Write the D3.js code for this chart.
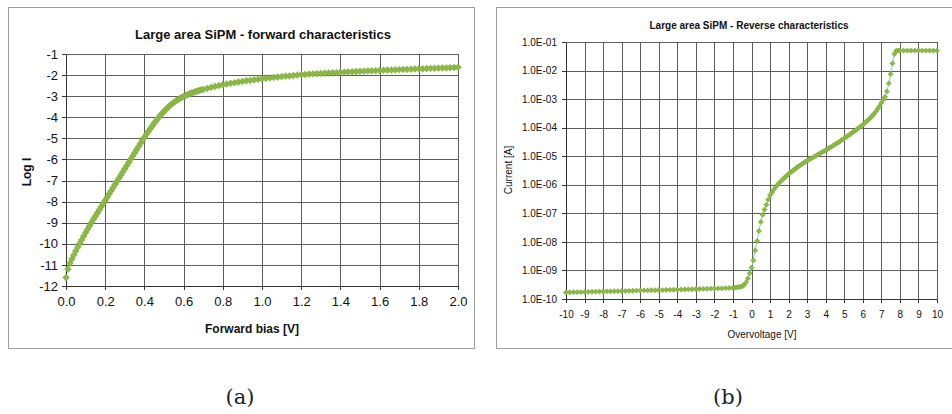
<!DOCTYPE html>
<html>
<head>
<meta charset="utf-8">
<script src="https://cdn.jsdelivr.net/npm/d3@7"></script>
<style>
  html, body { margin: 0; padding: 0; background: #fff; }
  svg { display: block; }
  .ax text { font-family: "Liberation Sans", Arial, sans-serif; fill: #111; }
  .ax path, .ax line { stroke: #333; shape-rendering: crispEdges; }
  .grid line { stroke: #5e5e5e; shape-rendering: crispEdges; }
  .grid path { display: none; }
</style>
</head>
<body>
<svg id="fig" width="952" height="414"></svg>
<script>
// ---- (a) forward characteristics: log10 of current vs forward bias ----
const forwardBias = [
  0.00, 0.01, 0.02, 0.03, 0.04, 0.05, 0.06, 0.07, 0.08, 0.09,
  0.10, 0.11, 0.12, 0.13, 0.14, 0.15, 0.16, 0.17, 0.18, 0.19,
  0.20, 0.21, 0.22, 0.23, 0.24, 0.25, 0.26, 0.27, 0.28, 0.29,
  0.30, 0.31, 0.32, 0.33, 0.34, 0.35, 0.36, 0.37, 0.38, 0.39,
  0.40, 0.41, 0.42, 0.43, 0.44, 0.45, 0.46, 0.47, 0.48, 0.49,
  0.50, 0.51, 0.52, 0.53, 0.54, 0.55, 0.56, 0.57, 0.58, 0.59,
  0.60, 0.61, 0.62, 0.63, 0.64, 0.65, 0.66, 0.67, 0.68, 0.69,
  0.70, 0.72, 0.74, 0.76, 0.78, 0.80, 0.82, 0.84, 0.86, 0.88,
  0.90, 0.92, 0.94, 0.96, 0.98, 1.00, 1.02, 1.04, 1.06, 1.08,
  1.10, 1.12, 1.14, 1.16, 1.18, 1.20, 1.22, 1.24, 1.26, 1.28,
  1.30, 1.32, 1.34, 1.36, 1.38, 1.40, 1.42, 1.44, 1.46, 1.48,
  1.50, 1.52, 1.54, 1.56, 1.58, 1.60, 1.62, 1.64, 1.66, 1.68,
  1.70, 1.72, 1.74, 1.76, 1.78, 1.80, 1.82, 1.84, 1.86, 1.88,
  1.90, 1.92, 1.94, 1.96, 1.98, 2.00
];
const logCurrent = [
  -11.60, -11.20, -10.92, -10.72, -10.53, -10.34, -10.16, -9.98, -9.81, -9.64,
  -9.47, -9.31, -9.15, -8.99, -8.84, -8.69, -8.54, -8.39, -8.24, -8.09,
  -7.94, -7.79, -7.64, -7.49, -7.34, -7.19, -7.04, -6.89, -6.74, -6.59,
  -6.44, -6.29, -6.14, -5.99, -5.84, -5.69, -5.54, -5.39, -5.24, -5.09,
  -4.95, -4.81, -4.67, -4.54, -4.41, -4.28, -4.16, -4.04, -3.93, -3.82,
  -3.72, -3.62, -3.53, -3.45, -3.37, -3.30, -3.23, -3.17, -3.11, -3.06,
  -3.01, -2.97, -2.93, -2.89, -2.85, -2.82, -2.79, -2.76, -2.73, -2.70,
  -2.68, -2.63, -2.58, -2.54, -2.50, -2.46, -2.42, -2.39, -2.36, -2.33,
  -2.30, -2.27, -2.25, -2.22, -2.20, -2.17, -2.15, -2.13, -2.11, -2.09,
  -2.07, -2.05, -2.04, -2.02, -2.00, -1.98, -1.97, -1.95, -1.94, -1.93,
  -1.92, -1.91, -1.90, -1.89, -1.88, -1.87, -1.86, -1.85, -1.84, -1.83,
  -1.82, -1.81, -1.80, -1.80, -1.79, -1.78, -1.77, -1.76, -1.76, -1.75,
  -1.74, -1.73, -1.73, -1.72, -1.71, -1.70, -1.70, -1.69, -1.68, -1.68,
  -1.67, -1.66, -1.66, -1.65, -1.64, -1.63
];
const fwdXTicks = [0.0, 0.2, 0.4, 0.6, 0.8, 1.0, 1.2, 1.4, 1.6, 1.8, 2.0];
const fwdYTicks = [-12, -11, -10, -9, -8, -7, -6, -5, -4, -3, -2, -1];

// ---- (b) reverse characteristics: current [A] vs overvoltage ----
const overvoltage = [
  -10.0, -9.8, -9.6, -9.4, -9.2, -9.0, -8.8, -8.6, -8.4, -8.2,
  -8.0, -7.8, -7.6, -7.4, -7.2, -7.0, -6.8, -6.6, -6.4, -6.2,
  -6.0, -5.8, -5.6, -5.4, -5.2, -5.0, -4.8, -4.6, -4.4, -4.2,
  -4.0, -3.8, -3.6, -3.4, -3.2, -3.0, -2.8, -2.6, -2.4, -2.2,
  -2.0, -1.8, -1.6, -1.4, -1.2, -1.0, -0.9, -0.8, -0.7, -0.6,
  -0.5, -0.4, -0.3, -0.2, -0.1, 0.0, 0.1, 0.2, 0.3, 0.4,
  0.5, 0.6, 0.7, 0.8, 0.9, 1.0, 1.1, 1.2, 1.3, 1.4,
  1.5, 1.6, 1.7, 1.8, 1.9, 2.0, 2.1, 2.2, 2.3, 2.4,
  2.5, 2.6, 2.7, 2.8, 2.9, 3.0, 3.1, 3.2, 3.3, 3.4,
  3.5, 3.6, 3.7, 3.8, 3.9, 4.0, 4.1, 4.2, 4.3, 4.4,
  4.5, 4.6, 4.7, 4.8, 4.9, 5.0, 5.1, 5.2, 5.3, 5.4,
  5.5, 5.6, 5.7, 5.8, 5.9, 6.0, 6.1, 6.2, 6.3, 6.4,
  6.5, 6.6, 6.7, 6.8, 6.9, 7.0, 7.1, 7.2, 7.3, 7.4,
  7.5, 7.6, 7.7, 7.8, 7.9, 8.0, 8.2, 8.4, 8.6, 8.8,
  9.0, 9.2, 9.4, 9.6, 9.8, 10.0
];
const reverseCurrent = [
  1.70e-10, 1.71e-10, 1.73e-10, 1.74e-10, 1.75e-10, 1.77e-10, 1.78e-10, 1.79e-10, 1.81e-10, 1.82e-10,
  1.83e-10, 1.85e-10, 1.86e-10, 1.87e-10, 1.89e-10, 1.90e-10, 1.91e-10, 1.93e-10, 1.94e-10, 1.96e-10,
  1.97e-10, 1.99e-10, 2.00e-10, 2.02e-10, 2.03e-10, 2.05e-10, 2.06e-10, 2.08e-10, 2.10e-10, 2.11e-10,
  2.13e-10, 2.15e-10, 2.16e-10, 2.18e-10, 2.20e-10, 2.22e-10, 2.24e-10, 2.26e-10, 2.28e-10, 2.30e-10,
  2.32e-10, 2.35e-10, 2.37e-10, 2.40e-10, 2.43e-10, 2.47e-10, 2.50e-10, 2.55e-10, 2.60e-10, 2.68e-10,
  2.75e-10, 3.16e-10, 3.80e-10, 5.25e-10, 7.94e-10, 1.26e-9, 2.24e-9, 5.01e-9, 1.07e-8, 2.40e-8,
  5.01e-8, 8.91e-8, 1.35e-7, 2.00e-7, 3.02e-7, 4.27e-7, 5.37e-7, 6.76e-7, 8.32e-7, 1.00e-6,
  1.17e-6, 1.38e-6, 1.58e-6, 1.82e-6, 2.09e-6, 2.40e-6, 2.69e-6, 3.02e-6, 3.39e-6, 3.80e-6,
  4.27e-6, 4.68e-6, 5.25e-6, 5.75e-6, 6.31e-6, 6.92e-6, 7.59e-6, 8.32e-6, 8.91e-6, 9.77e-6,
  1.07e-5, 1.15e-5, 1.26e-5, 1.38e-5, 1.48e-5, 1.62e-5, 1.78e-5, 1.95e-5, 2.14e-5, 2.34e-5,
  2.57e-5, 2.82e-5, 3.09e-5, 3.47e-5, 3.80e-5, 4.27e-5, 4.68e-5, 5.25e-5, 5.75e-5, 6.46e-5,
  7.24e-5, 7.94e-5, 8.91e-5, 1.00e-4, 1.12e-4, 1.26e-4, 1.45e-4, 1.66e-4, 1.91e-4, 2.19e-4,
  2.57e-4, 3.02e-4, 3.63e-4, 4.47e-4, 5.62e-4, 7.41e-4, 9.55e-4, 1.20e-3, 1.86e-3, 3.55e-3,
  7.59e-3, 1.78e-2, 3.80e-2, 4.90e-2, 5.01e-2, 5.00e-2, 5.00e-2, 5.00e-2, 5.00e-2, 5.00e-2,
  5.00e-2, 5.00e-2, 5.00e-2, 5.00e-2, 5.00e-2, 5.00e-2
];
const revXTicks = [-10, -9, -8, -7, -6, -5, -4, -3, -2, -1, 0, 1, 2, 3, 4, 5, 6, 7, 8, 9, 10];
const revYTicks = [1e-10, 1e-9, 1e-8, 1e-7, 1e-6, 1e-5, 1e-4, 1e-3, 1e-2, 1e-1];

const svg = d3.select("#fig");
const markerFill = "#8cba45";
const markerEdge = "#79a638";

// number formats that use a plain hyphen for negatives
const hyphen = f => d => f(d).replace("\u2212", "-");
// Excel-style exponent labels, e.g. 1.0E-05
function sciLabel(v) {
  const e = Math.round(Math.log10(v));
  const s = String(Math.abs(e)).padStart(2, "0");
  return "1.0E" + (e < 0 ? "-" : "+") + s;
}

function drawPanel(o) {
  const g = svg.append("g");
  // outer frame
  g.append("rect")
    .attr("x", o.frame[0] + 0.5).attr("y", o.frame[1] + 0.5)
    .attr("width", o.frame[2]).attr("height", o.frame[3])
    .attr("fill", "#fff").attr("stroke", "#9d9d9d").attr("stroke-width", 1);

  const [x0, x1] = o.x.range();
  const [yb, yt] = o.y.range();

  // gridlines
  g.append("g").attr("class", "grid")
    .attr("transform", `translate(0,${yt})`)
    .call(d3.axisBottom(o.x).tickValues(o.xTicks).tickSize(yb - yt).tickFormat(""));
  g.append("g").attr("class", "grid")
    .attr("transform", `translate(${x1},0)`)
    .call(d3.axisLeft(o.y).tickValues(o.yTicks).tickSize(x1 - x0).tickFormat(""));

  // axes
  const ax = g.append("g").attr("class", "ax")
    .attr("transform", `translate(0,${yb})`)
    .call(d3.axisBottom(o.x).tickValues(o.xTicks).tickSize(4).tickSizeOuter(0)
      .tickPadding(o.xPad).tickFormat(o.xFmt));
  ax.selectAll("text").style("font-size", o.tickFont + "px");
  const ay = g.append("g").attr("class", "ax")
    .attr("transform", `translate(${x0},0)`)
    .call(d3.axisLeft(o.y).tickValues(o.yTicks).tickSize(4).tickSizeOuter(0)
      .tickPadding(o.yPad).tickFormat(o.yFmt));
  ay.selectAll("text").style("font-size", o.tickFont + "px");

  // connecting line (only for panels that have one)
  const pts = o.xs.map((v, i) => [o.x(v), o.y(o.ys[i])]);
  if (o.lineColor) {
    g.append("path").attr("d", d3.line()(pts))
      .attr("fill", "none").attr("stroke", o.lineColor).attr("stroke-width", 1);
  }
  // diamond markers
  const sym = d3.symbol().type(d3.symbolDiamond2).size(o.markerSize);
  g.append("g").selectAll("path").data(pts).join("path")
    .attr("transform", d => `translate(${d[0]},${d[1]})`)
    .attr("d", sym)
    .attr("fill", markerFill).attr("stroke", markerEdge).attr("stroke-width", 0.5);

  // titles
  const font = "'Liberation Sans', Arial, sans-serif";
  g.append("text").text(o.title)
    .attr("x", o.titlePos[0]).attr("y", o.titlePos[1]).attr("text-anchor", "middle")
    .style("font-family", font).style("font-weight", "bold").style("font-size", o.titleFont + "px")
    .attr("fill", "#111");
  g.append("text").text(o.xTitle)
    .attr("x", o.xTitlePos[0]).attr("y", o.xTitlePos[1]).attr("text-anchor", "middle")
    .style("font-family", font).style("font-weight", o.axisBold ? "bold" : "normal")
    .style("font-size", o.axisFont + "px").attr("fill", "#111");
  g.append("text").text(o.yTitle)
    .attr("transform", `translate(${o.yTitlePos[0]},${o.yTitlePos[1]}) rotate(-90)`)
    .attr("text-anchor", "middle")
    .style("font-family", font).style("font-weight", o.axisBold ? "bold" : "normal")
    .style("font-size", o.axisFont + "px").attr("fill", "#111");

  // sub-figure caption
  g.append("text").text(o.caption)
    .attr("x", o.captionPos[0]).attr("y", o.captionPos[1]).attr("text-anchor", "middle")
    .style("font-family", "'DejaVu Serif', 'Liberation Serif', serif")
    .style("font-size", "21px").attr("fill", "#222");
}

drawPanel({
  frame: [8, 7, 466, 341],
  x: d3.scaleLinear().domain([0, 2]).range([66, 458]),
  y: d3.scaleLinear().domain([-12, -1]).range([286, 54]),
  xTicks: fwdXTicks, yTicks: fwdYTicks,
  xFmt: hyphen(d3.format(".1f")), yFmt: hyphen(d3.format("d")),
  xPad: 7, yPad: 4, tickFont: 13,
  xs: forwardBias, ys: logCurrent,
  markerSize: 30, lineColor: null,
  title: "Large area SiPM - forward characteristics", titlePos: [263, 39], titleFont: 13,
  xTitle: "Forward bias [V]", xTitlePos: [252, 333],
  yTitle: "Log I", yTitlePos: [31, 172],
  axisFont: 12, axisBold: true,
  caption: "(a)", captionPos: [240, 404]
});

drawPanel({
  frame: [496, 7, 470, 341],
  x: d3.scaleLinear().domain([-10, 10]).range([566, 937]),
  y: d3.scaleLog().domain([1e-10, 1e-1]).range([299, 42]),
  xTicks: revXTicks, yTicks: revYTicks,
  xFmt: hyphen(d3.format("d")), yFmt: sciLabel,
  xPad: 8, yPad: 5, tickFont: 10,
  xs: overvoltage, ys: reverseCurrent,
  markerSize: 18, lineColor: "#86d3bd",
  title: "Large area SiPM - Reverse characteristics", titlePos: [749, 29], titleFont: 10,
  xTitle: "Overvoltage [V]", xTitlePos: [762, 338],
  yTitle: "Current [A]", yTitlePos: [512, 170],
  axisFont: 10, axisBold: false,
  caption: "(b)", captionPos: [728, 404]
});
</script>
</body>
</html>
